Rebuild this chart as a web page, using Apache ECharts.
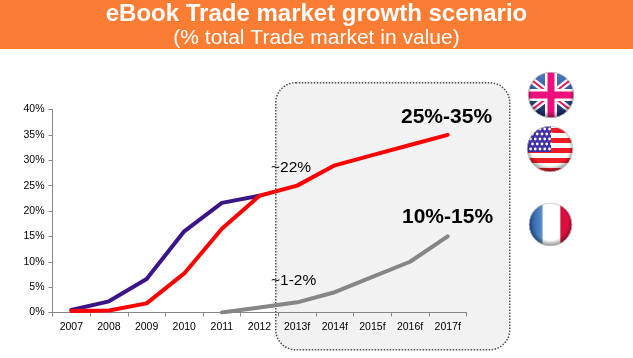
<!DOCTYPE html>
<html>
<head>
<meta charset="utf-8">
<style>
html, body { margin: 0; padding: 0; background: #fff; }
#chart { width: 633px; height: 358px; }
</style>
<script src="https://cdn.jsdelivr.net/npm/echarts@6/dist/echarts.min.js"></script>
</head>
<body>
<div id="chart"></div>
<script>
var years = ['2007', '2008', '2009', '2010', '2011', '2012', '2013f', '2014f', '2015f', '2016f', '2017f'];
var yTicks = [0, 5, 10, 15, 20, 25, 30, 35, 40];
var usValues = [0.5, 2.2, 6.6, 16, 21.6, 23, null, null, null, null, null];
var ukValues = [0.3, 0.4, 1.8, 7.7, 16.5, 23, 25, 29, 31, 33, 35];
var frValues = [null, null, null, null, 0, 1, 2, 4, 7, 10, 15];

var FONT = '"Liberation Sans", Arial, sans-serif';

function svgUri(body) {
    var svg = '<svg xmlns="http://www.w3.org/2000/svg" width="96" height="96" viewBox="0 0 96 96">' +
        '<defs><clipPath id="c"><circle cx="48" cy="48" r="46"/></clipPath>' +
        '<linearGradient id="b" x1="0" y1="0" x2="0" y2="1"><stop offset="0" stop-color="#4f7fc8"/><stop offset="1" stop-color="#16265f"/></linearGradient>' +
        '<linearGradient id="f" x1="0" y1="0" x2="1" y2="0"><stop offset="0" stop-color="#1f4f95"/><stop offset="1" stop-color="#5a90d0"/></linearGradient>' +
        '<radialGradient id="s" cx="50%" cy="45%" r="55%"><stop offset="75%" stop-color="#000" stop-opacity="0"/>' +
        '<stop offset="100%" stop-color="#000" stop-opacity=".45"/></radialGradient></defs>' +
        '<g clip-path="url(#c)">' + body + '</g>' +
        '<circle cx="48" cy="48" r="46" fill="url(#s)"/>' +
        '<circle cx="48" cy="48" r="45.5" fill="none" stroke="#ccc" stroke-width="1.5"/></svg>';
    return 'data:image/svg+xml;charset=utf-8,' + encodeURIComponent(svg);
}

var ukFlag = svgUri(
    '<rect width="96" height="96" fill="url(#b)"/>' +
    '<path d="M4 14L92 82M92 14L4 82" stroke="#fff" stroke-width="13"/>' +
    '<path d="M4 14L92 82M92 14L4 82" stroke="#e8175d" stroke-width="4"/>' +
    '<rect x="36" width="24" height="96" fill="#fff"/><rect y="36" width="96" height="24" fill="#fff"/>' +
    '<rect x="41" width="14" height="96" fill="#ee0f7c"/><rect y="41" width="96" height="14" fill="#ee0f7c"/>');

var stars = '';
for (var r = 0; r < 5; r++) {
    for (var c = 0; c < 5; c++) {
        stars += '<circle cx="' + (9 + c * 9.5 + (r % 2) * 4) + '" cy="' + (8 + r * 10) + '" r="2.8" fill="#fff"/>';
    }
}
var usFlag = svgUri(
    '<rect width="96" height="96" fill="#fff"/>' +
    '<rect y="6" width="96" height="10" fill="#ee1c25"/><rect y="26" width="96" height="10" fill="#ee1c25"/>' +
    '<rect y="46" width="96" height="10" fill="#ee1c25"/><rect y="66" width="96" height="10" fill="#ee1c25"/>' +
    '<rect y="86" width="96" height="10" fill="#ee1c25"/>' +
    '<rect width="50" height="54" fill="#3f2fa8"/>' + stars);

var frFlag = svgUri(
    '<rect width="96" height="96" fill="#fff"/>' +
    '<rect width="31" height="96" fill="url(#f)"/>' +
    '<rect x="69" width="27" height="96" fill="#d80f3f"/>');

var chart = echarts.init(document.getElementById('chart'));

function lineSeries(name, data, color, z) {
    return {
        name: name,
        type: 'line',
        data: data,
        z: z,
        symbol: 'none',
        connectNulls: false,
        lineStyle: { color: color, width: 4, cap: 'round', join: 'round' }
    };
}

function note(text, x, y, size, bold) {
    return {
        type: 'text',
        left: x,
        top: y,
        z: 20,
        style: {
            text: text,
            fill: '#000',
            font: (bold ? 'bold ' : '') + size + 'px ' + FONT
        }
    };
}

chart.setOption({
    animation: false,
    backgroundColor: '#fff',
    title: [{
        text: 'eBook Trade market growth scenario',
        left: 'center',
        top: -3,
        textStyle: { color: '#fff', fontFamily: FONT, fontSize: 24, fontWeight: 'bold' }
    }, {
        text: '(% total Trade market in value)',
        left: 'center',
        top: 23,
        textStyle: { color: '#fff', fontFamily: FONT, fontSize: 21, fontWeight: 'normal' }
    }],
    grid: { left: 52.5, right: 166.5, top: 109.5, bottom: 45.5, containLabel: false },
    xAxis: {
        type: 'category',
        data: years,
        boundaryGap: true,
        axisLine: { lineStyle: { color: '#868686', width: 1 } },
        axisTick: { show: true, length: 4, lineStyle: { color: '#868686' } },
        axisLabel: { color: '#000', fontFamily: FONT, fontSize: 10.5, margin: 9, interval: 0 },
        splitLine: { show: false }
    },
    yAxis: {
        type: 'value',
        min: yTicks[0],
        max: yTicks[yTicks.length - 1],
        interval: 5,
        axisLine: { show: true, lineStyle: { color: '#868686', width: 1 } },
        axisTick: { show: true, length: 4, lineStyle: { color: '#868686' } },
        axisLabel: { color: '#000', fontFamily: FONT, fontSize: 10.5, margin: 8, formatter: '{value}%' },
        splitLine: { show: false }
    },
    series: [
        lineSeries('US', usValues, '#3b1587', 3),
        lineSeries('France', frValues, '#868686', 4),
        lineSeries('UK', ukValues, '#ff0000', 5)
    ],
    graphic: [
        { type: 'rect', left: 0, top: 0, z: -10, shape: { width: 633, height: 49 }, style: { fill: '#fb7d33' } },
        {
            type: 'rect', left: 275, top: 82, z: -5,
            shape: { width: 234, height: 267, r: 20 },
            style: { fill: '#f2f2f2', stroke: '#4d4d4d', lineWidth: 1.5, lineDash: [1.5, 1.5] }
        },
        note('~22%', 271, 160, 15.5, false),
        note('~1-2%', 271, 273, 15.5, false),
        note('25%-35%', 401, 107, 21, true),
        note('10%-15%', 402, 207, 21, true),
        { type: 'image', left: 527, top: 71, z: 10, style: { image: ukFlag, width: 48, height: 48 } },
        { type: 'image', left: 526, top: 125, z: 10, style: { image: usFlag, width: 48, height: 48 } },
        { type: 'image', left: 528, top: 202, z: 10, style: { image: frFlag, width: 45, height: 45 } }
    ]
});
</script>
</body>
</html>
